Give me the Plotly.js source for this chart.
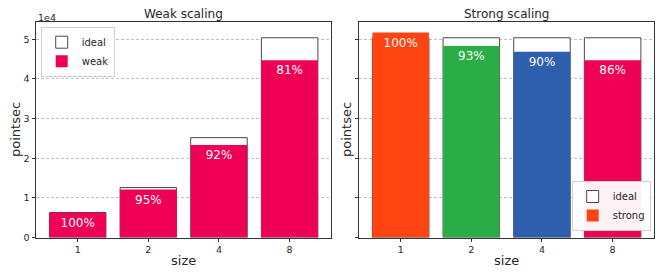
<!DOCTYPE html>
<html>
<head>
<meta charset="utf-8">
<script src="https://cdn.plot.ly/plotly-3.0.1.min.js"></script>
<style>html,body{margin:0;padding:0;background:#fff}#plot{width:664px;height:277px}</style>
</head>
<body>
<div id="plot"></div>
<script>
// ---- data ----
const sizes = ['1', '2', '4', '8'];
const weakIdeal = [6300, 12600, 25200, 50400];
const weakValues = [6300, 12100, 23350, 44700];
const weakLabels = ['100%', '95%', '92%', '81%'];
const strongIdeal = [50400, 50400, 50400, 50400];
const strongValues = [51700, 48300, 46850, 44700];
const strongLabels = ['100%', '93%', '90%', '86%'];
const yTickVals = [0, 10000, 20000, 30000, 40000, 50000];
const yTickText = ['0', '1', '2', '3', '4', '5'];

// ---- style ----
const W = 664, H = 277;
const pink = '#ee0055';
const strongColors = ['#ff4311', '#2aad45', '#2e5eae', '#ee0055'];
const font = 'DejaVu Sans, sans-serif';
const txt = '#262626';

const idealStyle = {color: '#ffffff', line: {color: '#4a4a4a', width: 1}};

const traces = [
  {type: 'bar', x: sizes, y: weakIdeal, name: 'ideal', width: 0.8,
   marker: idealStyle, xaxis: 'x', yaxis: 'y', legend: 'legend', hoverinfo: 'skip'},
  {type: 'bar', x: sizes, y: weakValues, name: 'weak', width: 0.8,
   marker: {color: pink, line: {width: 0}}, text: weakLabels, textposition: 'inside',
   insidetextanchor: 'end', textfont: {color: '#ffffff', size: 12, family: font},
   xaxis: 'x', yaxis: 'y', legend: 'legend', hoverinfo: 'skip'},
  {type: 'bar', x: sizes, y: strongIdeal, name: 'ideal', width: 0.8,
   marker: idealStyle, xaxis: 'x2', yaxis: 'y2', legend: 'legend2', hoverinfo: 'skip'},
  {type: 'bar', x: sizes, y: strongValues, name: 'strong', width: 0.8,
   marker: {color: strongColors, line: {width: 0}}, text: strongLabels, textposition: 'inside',
   insidetextanchor: 'end', textfont: {color: '#ffffff', size: 12, family: font},
   xaxis: 'x2', yaxis: 'y2', legend: 'legend2', hoverinfo: 'skip'}
];

const yDom = [(H - 237.5) / H, (H - 22.3) / H];
const xDom1 = [36 / W, 331.3 / W];
const xDom2 = [359 / W, 654.3 / W];

function xAxis(dom, anchor) {
  return {domain: dom, anchor: anchor, type: 'category', range: [-0.59, 3.59],
    showline: true, mirror: true, linecolor: '#333', linewidth: 1,
    ticks: 'outside', ticklen: 3.5, tickwidth: 1, tickcolor: '#333',
    tickfont: {family: font, size: 9.5, color: txt}, showgrid: false, zeroline: false,
    title: {text: 'size', font: {family: font, size: 13, color: txt}, standoff: 1}, fixedrange: true};
}
function yAxis(anchor, labels) {
  return {domain: yDom, anchor: anchor, range: [0, 54300],
    tickvals: yTickVals, ticktext: yTickText, showticklabels: labels,
    showline: true, mirror: true, linecolor: '#333', linewidth: 1,
    ticks: 'outside', ticklen: 3.5, tickwidth: 1, tickcolor: '#333',
    tickfont: {family: font, size: 9.5, color: txt},
    showgrid: true, gridcolor: '#b0b0b0', gridwidth: 0.8, griddash: '3px,2px', zeroline: false,
    fixedrange: true};
}

const layout = {
  width: W, height: H, margin: {l: 0, r: 0, t: 0, b: 0},
  paper_bgcolor: '#fff', plot_bgcolor: '#fff',
  barmode: 'overlay', bargap: 0.2,
  font: {family: font, color: txt},
  xaxis: xAxis(xDom1, 'y'), yaxis: yAxis('x', true),
  xaxis2: xAxis(xDom2, 'y2'), yaxis2: yAxis('x2', false),
  legend: {x: 40.7 / W, y: 1 - 26.7 / H, xanchor: 'left', yanchor: 'top',
    bgcolor: 'rgba(255,255,255,0.95)', bordercolor: '#d0d0d0', borderwidth: 1,
    font: {family: font, size: 10, color: txt}, tracegroupgap: 0, itemwidth: 30},
  legend2: {x: 650.7 / W, y: 1 - 231 / H, xanchor: 'right', yanchor: 'bottom',
    bgcolor: 'rgba(255,255,255,0.95)', bordercolor: '#d0d0d0', borderwidth: 1,
    font: {family: font, size: 10, color: txt}, tracegroupgap: 0, itemwidth: 30},
  annotations: [
    {text: 'Weak scaling', xref: 'paper', yref: 'paper', x: (36 + 331.3) / 2 / W, y: 1 - 14.3 / H,
     xanchor: 'center', yanchor: 'middle', showarrow: false, font: {family: font, size: 12, color: txt}},
    {text: 'Strong scaling', xref: 'paper', yref: 'paper', x: (359 + 654.3) / 2 / W, y: 1 - 14.3 / H,
     xanchor: 'center', yanchor: 'middle', showarrow: false, font: {family: font, size: 12, color: txt}},
    {text: '1e4', xref: 'paper', yref: 'paper', x: 36 / W, y: 1 - 17.5 / H,
     xanchor: 'left', yanchor: 'middle', showarrow: false, font: {family: font, size: 9.5, color: txt}},
    {text: 'pointsec', xref: 'paper', yref: 'paper', x: 15 / W, y: 1 - 130 / H, textangle: -90,
     xanchor: 'center', yanchor: 'middle', showarrow: false, font: {family: font, size: 13, color: txt}},
    {text: 'pointsec', xref: 'paper', yref: 'paper', x: 346 / W, y: 1 - 130 / H, textangle: -90,
     xanchor: 'center', yanchor: 'middle', showarrow: false, font: {family: font, size: 13, color: txt}}
  ],
  showlegend: true
};

Plotly.newPlot('plot', traces, layout, {staticPlot: true, displayModeBar: false});
</script>
</body>
</html>
